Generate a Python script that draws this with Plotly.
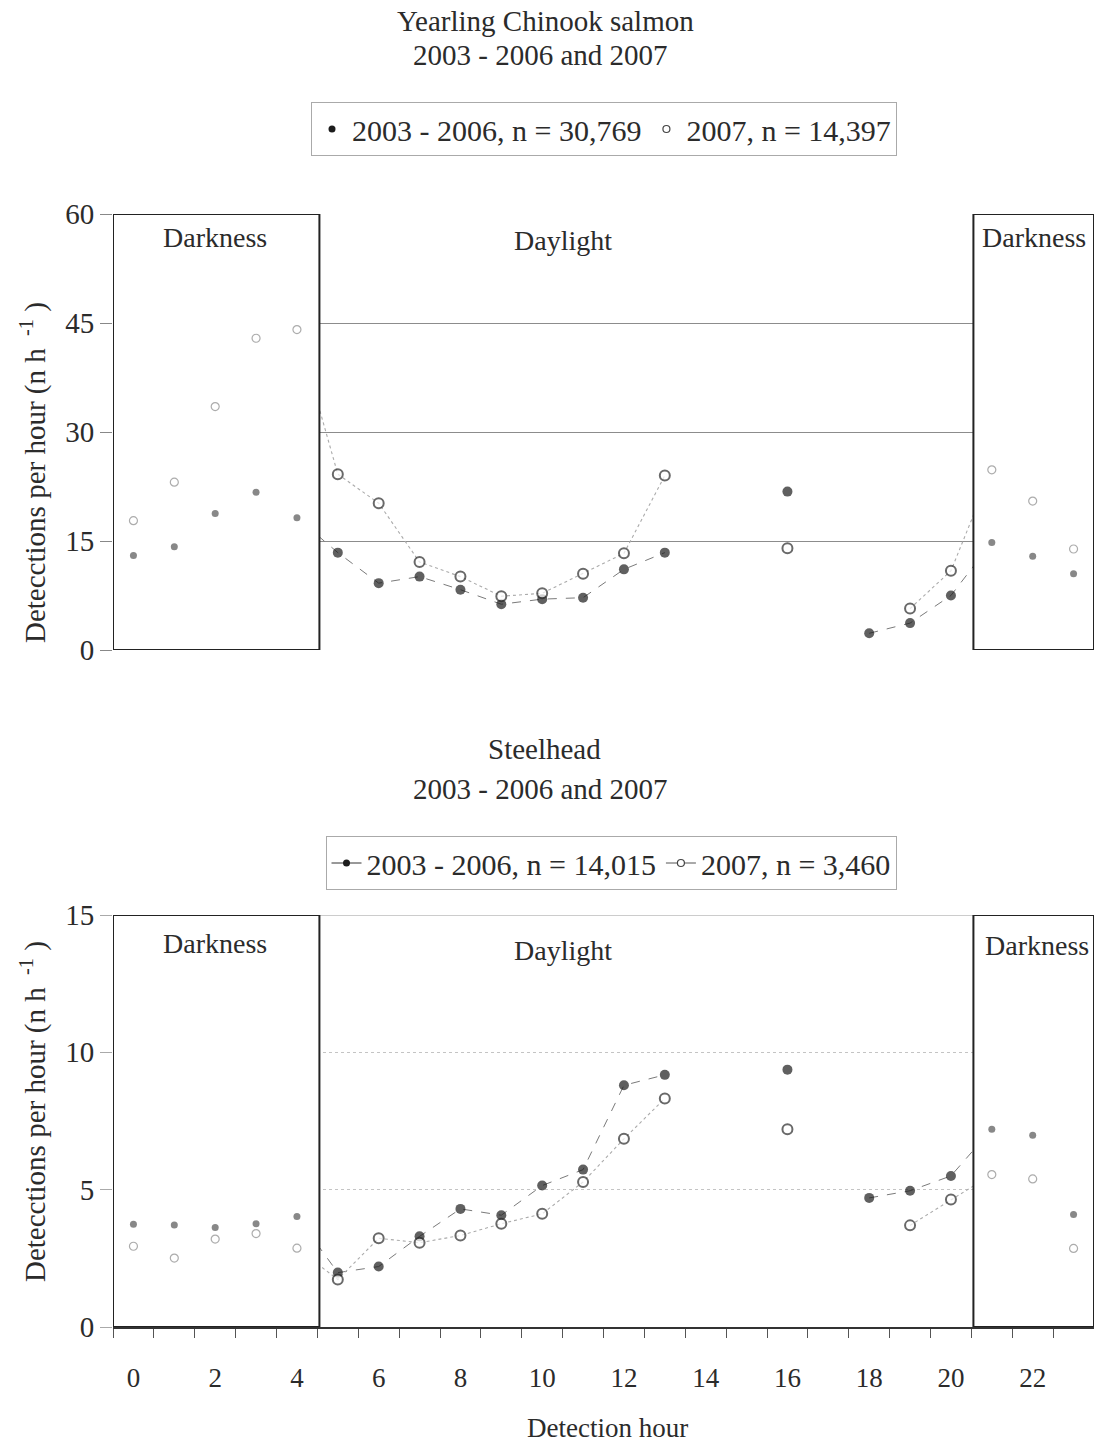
import plotly.graph_objects as go

# ---------------- data ----------------
HOURS = list(range(24))

chinook_0306 = [13.0, 14.2, 18.8, 21.7, 18.2, 13.4, 9.2, 10.1, 8.3, 6.3, 7.0, 7.2,
                11.1, 13.4, None, None, 21.8, None, 2.3, 3.7, 7.5, 14.8, 12.9, 10.5]
chinook_2007 = [17.8, 23.1, 33.5, 42.9, 44.1, 24.2, 20.2, 12.1, 10.1, 7.4, 7.8, 10.5,
                13.3, 24.0, None, None, 14.0, None, None, 5.7, 10.9, 24.8, 20.5, 13.9]

steel_0306 = [3.74, 3.71, 3.62, 3.76, 4.02, 1.98, 2.20, 3.30, 4.30, 4.07, 5.15, 5.73,
              8.80, 9.18, None, None, 9.37, None, 4.70, 4.96, 5.50, 7.20, 6.98, 4.10]
steel_2007 = [2.94, 2.51, 3.20, 3.40, 2.87, 1.73, 3.23, 3.07, 3.33, 3.76, 4.12, 5.28,
              6.85, 8.32, None, None, 7.20, None, None, 3.70, 4.64, 5.55, 5.39, 2.86]

LEGEND_CHINOOK = ["2003 - 2006, n = 30,769", "2007, n = 14,397"]
LEGEND_STEEL = ["2003 - 2006, n = 14,015", "2007, n = 3,460"]

DARK_PERIODS = [(-0.5, 4.55), (20.55, 23.5)]
XTICKS = list(range(0, 24, 2))

# ---------------- layout helpers ----------------
W, H = 1094, 1443
L = 113
FONT = "Liberation Serif"
TXT = "#2b2b2b"


def py(p):
    return 1 - p / H


def pxx(p):
    return (p - L) / (W - L)


def in_dark(h):
    return any(a <= h <= b for a, b in DARK_PERIODS)


fig = go.Figure()

panels = [
    dict(xa="x", ya="y", a=chinook_0306, b=chinook_2007, top=60, legend="legend",
         names=LEGEND_CHINOOK, legmode="markers"),
    dict(xa="x2", ya="y2", a=steel_0306, b=steel_2007, top=15, legend="legend2",
         names=LEGEND_STEEL, legmode="lines+markers"),
]

for p in panels:
    xa, ya = p["xa"], p["ya"]
    # connecting lines (drawn under the darkness boxes)
    fig.add_trace(go.Scatter(x=HOURS, y=p["a"], mode="lines", xaxis=xa, yaxis=ya,
                             line=dict(color="#7a7a7a", width=1, dash="dash"),
                             showlegend=False, hoverinfo="skip", connectgaps=False))
    fig.add_trace(go.Scatter(x=HOURS, y=p["b"], mode="lines", xaxis=xa, yaxis=ya,
                             line=dict(color="#ababab", width=1.1, dash="dot"),
                             showlegend=False, hoverinfo="skip", connectgaps=False))
    # darkness boxes
    for a, b in DARK_PERIODS:
        fig.add_trace(go.Scatter(x=[a, b, b, a, a], y=[0, 0, p["top"], p["top"], 0],
                                 mode="lines", fill="toself", fillcolor="white",
                                 line=dict(color="#222222", width=2),
                                 xaxis=xa, yaxis=ya, showlegend=False, hoverinfo="skip"))
    dark = [in_dark(h) for h in HOURS]
    # markers, 2003-2006 (filled)
    fig.add_trace(go.Scatter(
        x=HOURS, y=p["a"], mode="markers", xaxis=xa, yaxis=ya, showlegend=False,
        marker=dict(symbol="circle",
                    size=[7 if d else 10 for d in dark],
                    color=["#555555" if d else "#1c1c1c" for d in dark],
                    line=dict(width=0))))
    # markers, 2007 (open)
    fig.add_trace(go.Scatter(
        x=HOURS, y=p["b"], mode="markers", xaxis=xa, yaxis=ya, showlegend=False,
        marker=dict(symbol="circle",
                    size=[8 if d else 10 for d in dark],
                    color="white",
                    line=dict(color=["#8a8a8a" if d else "#2a2a2a" for d in dark],
                              width=[1.2 if d else 2 for d in dark]))))
    # legend entries
    fig.add_trace(go.Scatter(x=[None], y=[None], mode=p["legmode"], name=p["names"][0],
                             xaxis=xa, yaxis=ya, legend=p["legend"],
                             line=dict(color="#333333", width=1),
                             marker=dict(symbol="circle", size=7, color="#1c1c1c")))
    fig.add_trace(go.Scatter(x=[None], y=[None], mode=p["legmode"], name=p["names"][1],
                             xaxis=xa, yaxis=ya, legend=p["legend"],
                             line=dict(color="#555555", width=1),
                             marker=dict(symbol="circle", size=7, color="white",
                                         line=dict(color="#444444", width=1.2))))

ann = []


def add_text(text, x, y, size=28, xref="paper", yref="paper", angle=0):
    ann.append(dict(text=text, x=x, y=y, xref=xref, yref=yref, showarrow=False,
                    textangle=angle, xanchor="center", yanchor="middle",
                    font=dict(family=FONT, size=size, color=TXT)))


# titles
add_text("Yearling Chinook salmon", pxx(545), py(21), size=29)
add_text("2003 - 2006 and 2007", pxx(540), py(55), size=29)
add_text("Steelhead", pxx(544), py(749), size=29)
add_text("2003 - 2006 and 2007", pxx(540), py(789), size=29)

# region labels
add_text("Darkness", 2.0, 56.8, xref="x", yref="y")
add_text("Daylight", 10.5, 56.4, xref="x", yref="y")
add_text("Darkness", 22.03, 56.8, xref="x", yref="y")
add_text("Darkness", 2.0, 13.95, xref="x2", yref="y2")
add_text("Daylight", 10.5, 13.7, xref="x2", yref="y2")
add_text("Darkness", 22.1, 13.9, xref="x2", yref="y2")

# axis titles
ylab = "Detecctions per hour (n h <sup> -1</sup> )"
add_text(ylab, pxx(33), py(473), size=29, angle=-90)
add_text(ylab, pxx(33), py(1112), size=29, angle=-90)
add_text("Detection hour", pxx(607), py(1428), size=27)

fig.update_layout(
    width=W, height=H,
    margin=dict(l=L, r=0, t=0, b=0),
    paper_bgcolor="white", plot_bgcolor="white",
    font=dict(family=FONT, color=TXT),
    annotations=ann,
    shapes=[dict(type="line", xref="x2 domain", x0=0, x1=1, yref="y2", y0=15, y1=15,
                 line=dict(color="#999999", width=1), layer="below")],
    xaxis=dict(domain=[0, 1], anchor="y", range=[-0.5, 23.5], showticklabels=False,
               ticks="", showgrid=False, zeroline=False, showline=False,
               automargin=False),
    yaxis=dict(domain=[py(650), py(214)], anchor="x", range=[0, 60],
               tickvals=[0, 15, 30, 45, 60], ticks="outside", ticklen=12,
               tickcolor="#888888", showgrid=True, gridcolor="#8c8c8c", gridwidth=1,
               zeroline=False, showline=False, automargin=False,
               tickfont=dict(size=29, family=FONT, color=TXT)),
    xaxis2=dict(domain=[0, 1], anchor="y2", range=[-0.5, 23.5], tickvals=XTICKS,
                ticktext=[str(v) for v in XTICKS], ticks="", showgrid=False,
                zeroline=False, showline=True, linecolor="#333333", linewidth=1.5,
                minor=dict(tickvals=[k - 0.5 for k in range(25)], ticks="outside",
                           ticklen=9, tickcolor="#555555", showgrid=False),
                ticklabelstandoff=26, automargin=False,
                tickfont=dict(size=27, family=FONT, color=TXT)),
    yaxis2=dict(domain=[py(1327), py(915)], anchor="x2", range=[0, 15],
                tickvals=[0, 5, 10, 15], ticks="outside", ticklen=12,
                tickcolor="#aaaaaa", showgrid=True, gridcolor="#c4c4c4", griddash="dot",
                gridwidth=1, zeroline=False, showline=False, automargin=False,
                tickfont=dict(size=29, family=FONT, color=TXT)),
    legend=dict(orientation="h", x=pxx(604), xanchor="center", y=py(102),
                yanchor="top", bordercolor="#aaaaaa", borderwidth=1, bgcolor="white",
                font=dict(size=30, family=FONT, color=TXT), itemwidth=30),
    legend2=dict(orientation="h", x=pxx(611), xanchor="center", y=py(836),
                 yanchor="top", bordercolor="#aaaaaa", borderwidth=1, bgcolor="white",
                 font=dict(size=30, family=FONT, color=TXT), itemwidth=30),
)

fig.write_html("out.html")
